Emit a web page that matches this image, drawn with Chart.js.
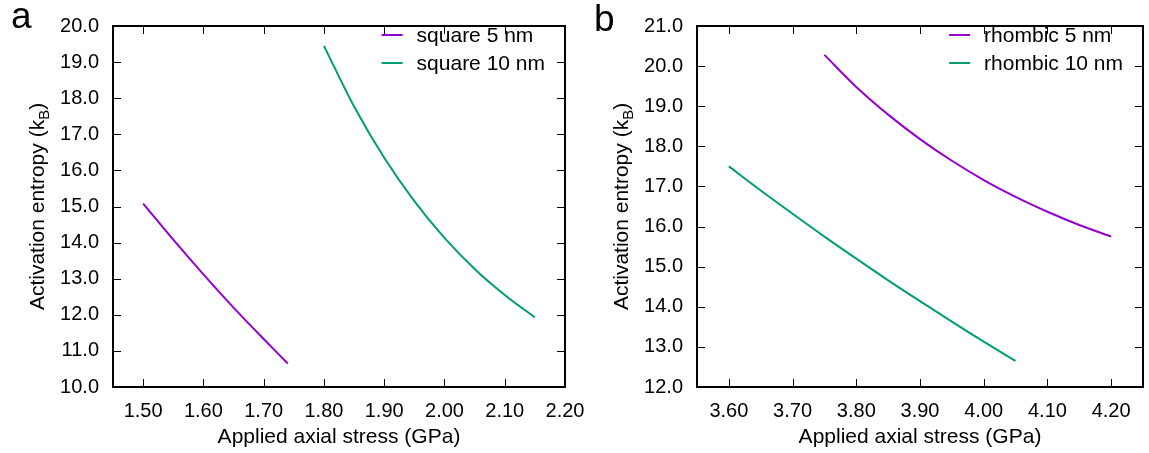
<!DOCTYPE html>
<html>
<head>
<meta charset="utf-8">
<script src="https://cdn.jsdelivr.net/npm/chart.js@4"></script>
<style>
  body { margin: 0; background: #fff; width: 1149px; height: 453px; position: relative; overflow: hidden; font-family: "Liberation Sans", Arial, sans-serif; }
  canvas { position: absolute; top: 0; }
  #chart-a { left: 0; }
  #chart-b { left: 580px; }
  .panel { position: absolute; font-size: 37px; line-height: 1; color: #000; }
</style>
</head>
<body>
<canvas id="chart-a" width="600" height="453"></canvas>
<canvas id="chart-b" width="569" height="453"></canvas>
<div class="panel" style="left:11px;top:-3px">a</div>
<div class="panel" style="left:594px;top:0px">b</div>
<script>
const FAMILY = '"Liberation Sans", Arial, sans-serif';
const PURPLE = "rgb(148,0,211)";
const GREEN = "rgb(0,158,115)";

// panel a: square
const stressSquare5 = [1.50, 1.55, 1.60, 1.65, 1.70, 1.74];
const entropySquare5 = [15.08, 14.08, 13.12, 12.20, 11.33, 10.65];
const stressSquare10 = [1.80, 1.85, 1.90, 1.95, 2.00, 2.05, 2.10, 2.15];
const entropySquare10 = [19.45, 17.77, 16.35, 15.15, 14.13, 13.27, 12.55, 11.93];
const xTicksA = [1.5, 1.6, 1.7, 1.8, 1.9, 2.0, 2.1, 2.2];
const yTicksA = [10, 11, 12, 13, 14, 15, 16, 17, 18, 19, 20];

// panel b: rhombic
const stressRhombic5 = [3.75, 3.80, 3.85, 3.90, 3.95, 4.00, 4.05, 4.10, 4.15, 4.20];
const entropyRhombic5 = [20.28, 19.48, 18.79, 18.18, 17.64, 17.16, 16.74, 16.37, 16.04, 15.75];
const stressRhombic10 = [3.60, 3.65, 3.70, 3.75, 3.80, 3.85, 3.90, 3.95, 4.00, 4.05];
const entropyRhombic10 = [17.50, 16.90, 16.32, 15.75, 15.20, 14.66, 14.14, 13.63, 13.13, 12.65];
const xTicksB = [3.6, 3.7, 3.8, 3.9, 4.0, 4.1, 4.2];
const yTicksB = [12, 13, 14, 15, 16, 17, 18, 19, 20, 21];

function toPoints(xs, ys) {
  return xs.map((x, i) => ({ x: x, y: ys[i] }));
}

function line(ctx, x1, y1, x2, y2) {
  ctx.beginPath();
  ctx.moveTo(x1, y1);
  ctx.lineTo(x2, y2);
  ctx.stroke();
}

// box, inward ticks on all sides, axis titles and the key
const framePlugin = {
  id: "frame",
  afterDraw(chart) {
    const ctx = chart.ctx;
    const a = chart.chartArea;
    const xs = chart.scales.x;
    const ys = chart.scales.y;
    ctx.save();
    ctx.strokeStyle = "#000";
    ctx.lineWidth = 1;
    xs.ticks.forEach((t) => {
      const px = Math.round(xs.getPixelForValue(t.value)) + 0.5;
      line(ctx, px, a.bottom, px, a.bottom - 8);
      line(ctx, px, a.top, px, a.top + 8);
    });
    ys.ticks.forEach((t) => {
      const py = Math.round(ys.getPixelForValue(t.value)) + 0.5;
      line(ctx, a.left, py, a.left + 8, py);
      line(ctx, a.right, py, a.right - 8, py);
    });
    ctx.lineWidth = 2;
    ctx.strokeRect(a.left, a.top, a.right - a.left, a.bottom - a.top);

    ctx.fillStyle = "#000";
    ctx.textBaseline = "alphabetic";

    // x title
    ctx.font = "21px " + FAMILY;
    ctx.textAlign = "center";
    ctx.fillText("Applied axial stress (GPa)", (a.left + a.right) / 2, 443);

    // y title with subscript
    ctx.save();
    ctx.translate(a.left - 76, (a.top + a.bottom) / 2);
    ctx.rotate(-Math.PI / 2);
    ctx.textAlign = "left";
    const main = "Activation entropy (k";
    ctx.font = "21px " + FAMILY;
    const w1 = ctx.measureText(main).width;
    const w3 = ctx.measureText(")").width;
    ctx.font = "15px " + FAMILY;
    const w2 = ctx.measureText("B").width;
    const start = -(w1 + w2 + w3) / 2;
    ctx.font = "21px " + FAMILY;
    ctx.fillText(main, start, 7);
    ctx.font = "15px " + FAMILY;
    ctx.fillText("B", start + w1, 12);
    ctx.font = "21px " + FAMILY;
    ctx.fillText(")", start + w1 + w2, 7);
    ctx.restore();

    // key
    ctx.font = "21px " + FAMILY;
    ctx.textAlign = "left";
    const sets = chart.data.datasets;
    const maxW = Math.max(...sets.map((d) => ctx.measureText(d.label).width));
    const textX = a.right - 20 - maxW;
    sets.forEach((d, i) => {
      const cy = 35 + i * 28;
      ctx.strokeStyle = d.borderColor;
      ctx.lineWidth = 2;
      line(ctx, textX - 35, cy, textX - 14, cy);
      ctx.fillStyle = "#000";
      ctx.fillText(d.label, textX, cy + 7);
    });
    ctx.restore();
  },
};

function buildPanel(id, series, xMin, xMax, yMin, yMax, xTicks, yTicks, leftW, rightPad) {
  const tickFont = { family: FAMILY, size: 20 };
  return new Chart(document.getElementById(id), {
    type: "line",
    data: {
      datasets: series.map((s) => ({
        label: s.label,
        data: s.data,
        borderColor: s.color,
        borderWidth: 2,
        pointRadius: 0,
        fill: false,
        cubicInterpolationMode: "monotone",
      })),
    },
    options: {
      responsive: false,
      animation: false,
      layout: { padding: { top: 13, right: rightPad, bottom: 0, left: 0 } },
      plugins: { legend: { display: false }, tooltip: { enabled: false } },
      scales: {
        x: {
          type: "linear",
          min: xMin,
          max: xMax,
          afterBuildTicks: (s) => { s.ticks = xTicks.map((v) => ({ value: v })); },
          afterFit: (s) => { s.height = 66; },
          grid: { display: false, drawTicks: false },
          border: { display: false },
          ticks: { color: "#000", font: tickFont, padding: 12, autoSkip: false, maxRotation: 0, callback: (v) => v.toFixed(2) },
        },
        y: {
          type: "linear",
          min: yMin,
          max: yMax,
          afterBuildTicks: (s) => { s.ticks = yTicks.map((v) => ({ value: v })); },
          afterFit: (s) => { s.width = leftW; },
          grid: { display: false, drawTicks: false },
          border: { display: false },
          ticks: { color: "#000", font: tickFont, padding: 14, autoSkip: false, callback: (v) => v.toFixed(1) },
        },
      },
    },
    plugins: [framePlugin],
  });
}

buildPanel("chart-a", [
  { label: "square 5 nm", data: toPoints(stressSquare5, entropySquare5), color: PURPLE },
  { label: "square 10 nm", data: toPoints(stressSquare10, entropySquare10), color: GREEN },
], 1.45, 2.2, 10, 20, xTicksA, yTicksA, 113, 35);

buildPanel("chart-b", [
  { label: "rhombic 5 nm", data: toPoints(stressRhombic5, entropyRhombic5), color: PURPLE },
  { label: "rhombic 10 nm", data: toPoints(stressRhombic10, entropyRhombic10), color: GREEN },
], 3.55, 4.25, 12, 21, xTicksB, yTicksB, 117, 6);
</script>
</body>
</html>
